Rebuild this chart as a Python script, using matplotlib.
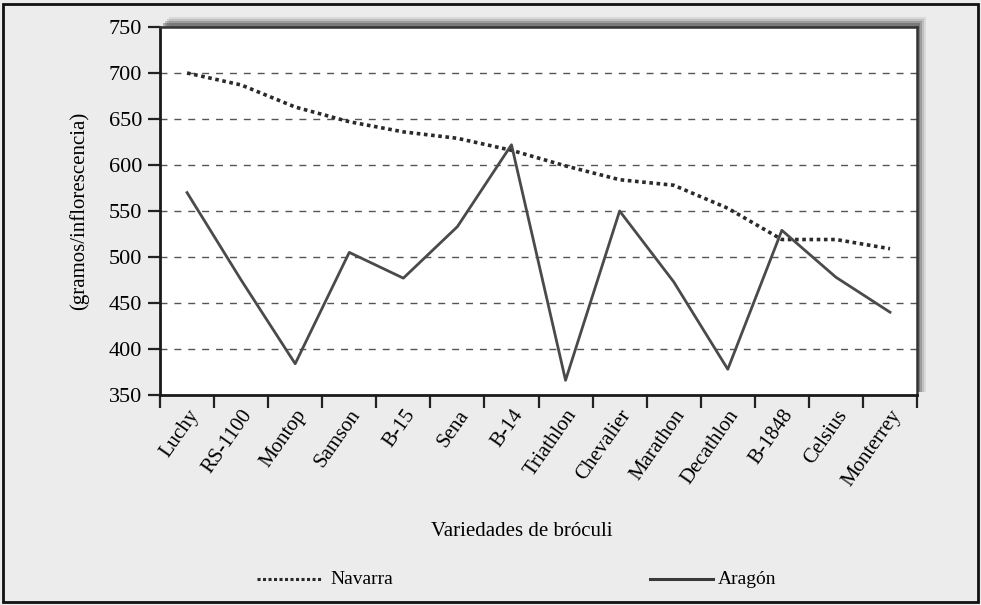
import matplotlib
matplotlib.use('Agg')
import matplotlib.pyplot as plt
from matplotlib.patches import Rectangle

# datos
variedades = ['Luchy', 'RS-1100', 'Montop', 'Samson', 'B-15', 'Sena', 'B-14',
              'Triathlon', 'Chevalier', 'Marathon', 'Decathlon', 'B-1848',
              'Celsius', 'Monterrey']
navarra = [700, 687, 663, 647, 636, 629, 616, 599, 584, 578, 553, 519, 519, 509]
aragon = [570, 475, 384, 505, 477, 533, 622, 366, 550, 473, 378, 529, 478, 440]
y_ticks = [350, 400, 450, 500, 550, 600, 650, 700, 750]

plt.rcParams['font.family'] = ['Liberation Serif', 'DejaVu Serif']

fig = plt.figure(figsize=(9.81, 6.05), dpi=100)
fig.patch.set_facecolor('#ececec')

ax = fig.add_axes([0.1631, 0.3471, 0.7717, 0.6083])
ax.set_facecolor('white')
ax.set_zorder(2)

# sombra del area de trazado (arriba y derecha)
pos = ax.get_position()
for k, a in [(9, 0.10), (7, 0.16), (5, 0.25), (3, 0.35)]:
    fig.add_artist(Rectangle((pos.x0 + k / 981, pos.y0 + 3 / 605), pos.width, pos.height + (k - 2) / 605,
                             transform=fig.transFigure, facecolor='#3a3a3a', alpha=a,
                             edgecolor='none', zorder=1))

x = list(range(len(variedades)))
ax.plot(x, navarra, color='#2a2a2a', lw=2.6, linestyle=(0, (1, 1)), label='Navarra', zorder=3)
ax.plot(x, aragon, color='#4a4a4a', lw=2.0, linestyle='-', label='Aragón', zorder=3)

ax.set_ylim(350, 750)
ax.set_xlim(-0.5, len(variedades) - 0.5)
ax.set_yticks(y_ticks)
ax.set_yticklabels([str(v) for v in y_ticks], fontsize=16)
for v in y_ticks[1:-1]:
    ax.axhline(v, color='#555555', lw=1.0, linestyle=(0, (5, 5)), zorder=1)

ax.set_xticks([i + 0.5 for i in range(-1, len(variedades))])
ax.set_xticklabels([])
ax.set_xticks(x, minor=True)
ax.set_xticklabels(variedades, minor=True, rotation=55, ha='right', va='top',
                   rotation_mode='anchor', fontsize=15)
ax.tick_params(axis='x', which='minor', length=0, pad=8)
ax.tick_params(axis='x', which='major', length=9, width=1.6, direction='out', color='#222222')
ax.tick_params(axis='y', length=9, width=1.6, direction='out', color='#222222', pad=4)

for s in ['left', 'bottom']:
    ax.spines[s].set_linewidth(2.0)
    ax.spines[s].set_color('#1a1a1a')
for s in ['top', 'right']:
    ax.spines[s].set_linewidth(1.8)
    ax.spines[s].set_color('#333333')

ax.set_ylabel('(gramos/inflorescencia)', fontsize=15, labelpad=14)
fig.text(522 / 981, 1 - 532 / 605, 'Variedades de bróculi', fontsize=15,
         ha='center', va='center')

# leyenda manual bajo el titulo del eje
ly = 1 - 579 / 605
fig.add_artist(plt.Line2D([257 / 981, 322 / 981], [ly, ly], color='#2a2a2a', lw=2.2,
                          linestyle=(0, (1, 0.8)), transform=fig.transFigure))
fig.text(330 / 981, ly, 'Navarra', fontsize=14, ha='left', va='center')
fig.add_artist(plt.Line2D([650 / 981, 713 / 981], [ly, ly], color='#3a3a3a', lw=2.2,
                          transform=fig.transFigure))
fig.text(718 / 981, ly, 'Aragón', fontsize=14, ha='left', va='center')

# marco exterior
fig.add_artist(Rectangle((3 / 981, 3 / 605), 975 / 981, 598 / 605, transform=fig.transFigure,
                         fill=False, edgecolor='#111111', lw=2.0))

fig.savefig('out.png', dpi=100, facecolor=fig.get_facecolor())
